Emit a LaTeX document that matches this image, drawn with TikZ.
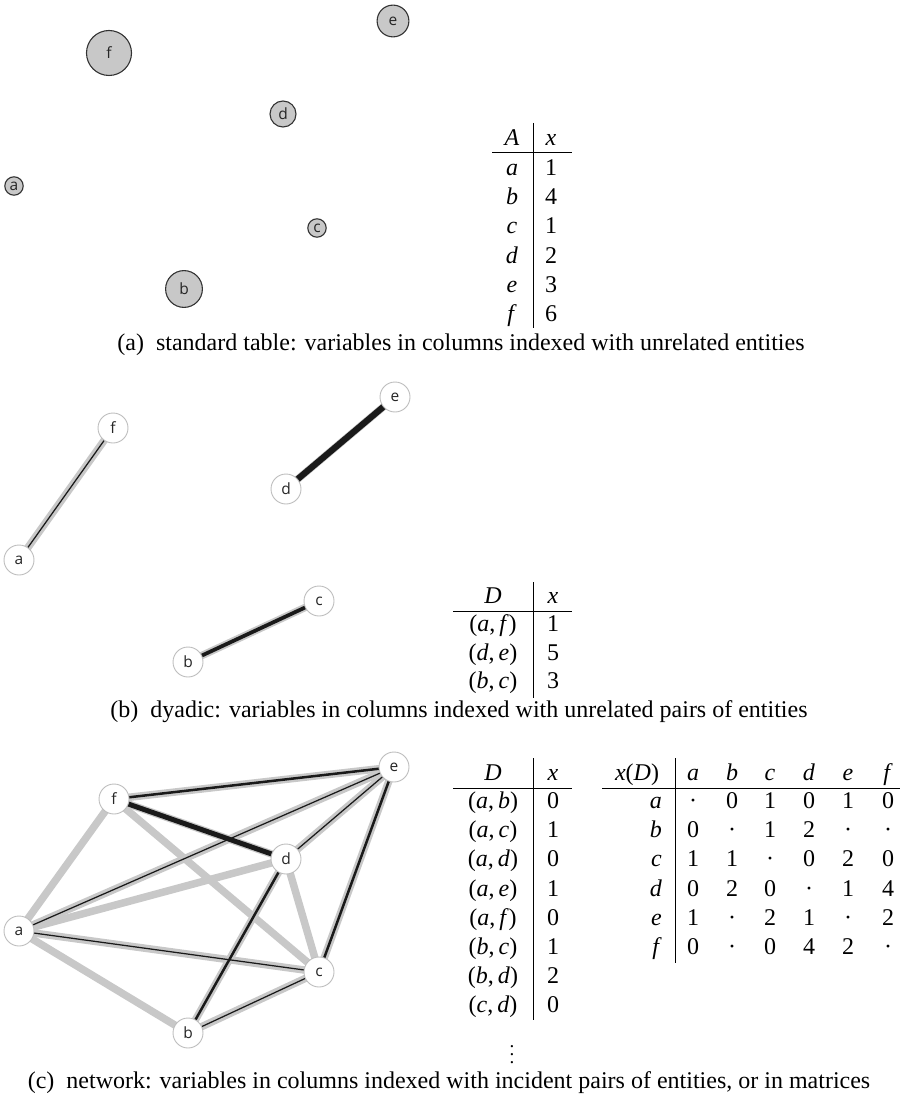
\documentclass[tikz,border=0pt]{standalone}
\usepackage{fontspec}
\setmainfont{Liberation Serif}
\newfontfamily\lblfont{Open Sans}
\usetikzlibrary{backgrounds}
\definecolor{bubblefill}{HTML}{C8C8C8}
\definecolor{bubbleline}{HTML}{333333}
\definecolor{vtxline}{HTML}{BDBDBD}
\definecolor{halogray}{HTML}{C8C8C8}
\definecolor{coreblack}{HTML}{1A1A1A}
\begin{document}
\begin{tikzpicture}[x=1pt,y=-1pt,
  bubble/.style={circle, draw=bubbleline, fill=bubblefill, line width=1.1pt, inner sep=0pt,
    minimum size=#1, font=\lblfont\fontsize{15.5}{15.5}\selectfont, text=black!85},
  vtx/.style={circle, draw=vtxline, fill=white, line width=0.9pt, minimum size=30pt, inner sep=0pt,
    font=\lblfont\fontsize{15.5}{15.5}\selectfont, text=black!85},
  halo/.style={draw=halogray, line width=7.5pt},
  core/.style={draw=coreblack, line width=#1},
  txt/.style={anchor=base, inner sep=0pt, font=\fontsize{24}{28}\selectfont},
  txtr/.style={anchor=base east, inner sep=0pt, font=\fontsize{24}{28}\selectfont},
  rule/.style={draw=black, line width=1pt},
  captext/.style={anchor=base, inner sep=0pt, font=\fontsize{24}{28}\selectfont}]
\useasboundingbox (0,0) rectangle (909,1099);

% ---------------- panel (a)
\node[bubble=18.4pt] (pa) at (14,186) {a};
\node[bubble=36.8pt] (pb) at (184,289) {b};
\node[bubble=18.4pt] (pc) at (317,228) {c};
\node[bubble=26pt] (pd) at (283,114) {d};
\node[bubble=31.8pt] (pe) at (393,21) {e};
\node[bubble=45pt] (pf) at (109,53) {f};

\draw[rule] (533,123) -- (533,328);
\draw[rule] (492,153) -- (572,153);
\node[txt] (tah1) at (512,145.5) {\textit{A}};
\node[txt] (tah2) at (551,145.5) {\textit{x}};
\node[txt] (ta1a) at (512,175.5) {\textit{a}};  \node[txt] (ta1x) at (551,175.5) {1};
\node[txt] (ta2a) at (512,204.7) {\textit{b}};  \node[txt] (ta2x) at (551,204.7) {4};
\node[txt] (ta3a) at (512,233.9) {\textit{c}};  \node[txt] (ta3x) at (551,233.9) {1};
\node[txt] (ta4a) at (512,263.1) {\textit{d}};  \node[txt] (ta4x) at (551,263.1) {2};
\node[txt] (ta5a) at (512,292.3) {\textit{e}};  \node[txt] (ta5x) at (551,292.3) {3};
\node[txt] (ta6a) at (512,321.5) {\textit{f}};  \node[txt] (ta6x) at (551,321.5) {6};

\node[captext] (capa) at (461,350) {(a)\ \ standard table: variables in columns indexed with unrelated entities};

% ---------------- panel (b)
\node[vtx] (ba) at (19,560) {a};
\node[vtx] (bb) at (188,662) {b};
\node[vtx] (bc) at (319,601) {c};
\node[vtx] (bd) at (286,489) {d};
\node[vtx] (be) at (395,397) {e};
\node[vtx] (bf) at (113,428) {f};
\begin{pgfonlayer}{background}
  \draw[halo] (ba.center) -- (bf.center);
  \draw[core=1.25pt] (ba.center) -- (bf.center);
  \draw[halo] (bd.center) -- (be.center);
  \draw[core=6.25pt] (bd.center) -- (be.center);
  \draw[halo] (bb.center) -- (bc.center);
  \draw[core=3.75pt] (bb.center) -- (bc.center);
\end{pgfonlayer}

\draw[rule] (533,582) -- (533,698);
\draw[rule] (453,611) -- (572,611);
\node[txt] (tbh1) at (493,603.5) {\textit{D}};
\node[txt] (tbh2) at (553,603.5) {\textit{x}};
\node[txt] (tb1d) at (493,631) {(\textit{a},\,\textit{f})}; \node[txt] (tb1x) at (553,631) {1};
\node[txt] (tb2d) at (493,660) {(\textit{d},\,\textit{e})}; \node[txt] (tb2x) at (553,660) {5};
\node[txt] (tb3d) at (493,688.5) {(\textit{b},\,\textit{c})}; \node[txt] (tb3x) at (553,688.5) {3};

\node[captext] (capb) at (459,717) {(b)\ \ dyadic: variables in columns indexed with unrelated pairs of entities};

% ---------------- panel (c)
\node[vtx] (ca) at (19,931) {a};
\node[vtx] (cb) at (188,1033) {b};
\node[vtx] (cc) at (319,972) {c};
\node[vtx] (cd) at (286,859) {d};
\node[vtx] (ce) at (394,767) {e};
\node[vtx] (cf) at (114,799) {f};
\begin{pgfonlayer}{background}
  \draw[halo] (ca.center) -- (cb.center);
  \draw[halo] (ca.center) -- (cd.center);
  \draw[halo] (ca.center) -- (cf.center);
  \draw[halo] (cc.center) -- (cd.center);
  \draw[halo] (cc.center) -- (cf.center);
  \draw[halo] (ca.center) -- (cc.center);
  \draw[halo] (ca.center) -- (ce.center);
  \draw[halo] (cb.center) -- (cc.center);
  \draw[halo] (cb.center) -- (cd.center);
  \draw[halo] (cc.center) -- (ce.center);
  \draw[halo] (cd.center) -- (ce.center);
  \draw[halo] (cd.center) -- (cf.center);
  \draw[halo] (ce.center) -- (cf.center);
  \draw[core=1.25pt] (ca.center) -- (cc.center);
  \draw[core=1.25pt] (ca.center) -- (ce.center);
  \draw[core=1.25pt] (cb.center) -- (cc.center);
  \draw[core=2.5pt] (cb.center) -- (cd.center);
  \draw[core=2.5pt] (cc.center) -- (ce.center);
  \draw[core=1.25pt] (cd.center) -- (ce.center);
  \draw[core=5pt] (cd.center) -- (cf.center);
  \draw[core=2.5pt] (ce.center) -- (cf.center);
\end{pgfonlayer}

% D table
\draw[rule] (533,758) -- (533,1020);
\draw[rule] (453,788) -- (572,788);
\node[txt] (tch1) at (493,780) {\textit{D}};
\node[txt] (tch2) at (553,780) {\textit{x}};
\node[txt] (tc1d) at (493,808.5) {(\textit{a},\,\textit{b})}; \node[txt] (tc1x) at (553,808.5) {0};
\node[txt] (tc2d) at (493,837.7) {(\textit{a},\,\textit{c})}; \node[txt] (tc2x) at (553,837.7) {1};
\node[txt] (tc3d) at (493,866.9) {(\textit{a},\,\textit{d})}; \node[txt] (tc3x) at (553,866.9) {0};
\node[txt] (tc4d) at (493,896.1) {(\textit{a},\,\textit{e})}; \node[txt] (tc4x) at (553,896.1) {1};
\node[txt] (tc5d) at (493,925.3) {(\textit{a},\,\textit{f})}; \node[txt] (tc5x) at (553,925.3) {0};
\node[txt] (tc6d) at (493,954.5) {(\textit{b},\,\textit{c})}; \node[txt] (tc6x) at (553,954.5) {1};
\node[txt] (tc7d) at (493,983.7) {(\textit{b},\,\textit{d})}; \node[txt] (tc7x) at (553,983.7) {2};
\node[txt] (tc8d) at (493,1012.9) {(\textit{c},\,\textit{d})}; \node[txt] (tc8x) at (553,1012.9) {0};
\node[inner sep=0pt] (tcdots) at (512,1049) {\scalebox{1.9}{$\vdots$}};

% matrix
\draw[rule] (675,758) -- (675,963);
\draw[rule] (602,788) -- (900,788);
\node[txt] (mh0) at (637,780) {\textit{x}(\textit{D})};
\node[txt] (mha) at (693,780) {\textit{a}};
\node[txt] (mhb) at (732,780) {\textit{b}};
\node[txt] (mhc) at (770,780) {\textit{c}};
\node[txt] (mhd) at (809,780) {\textit{d}};
\node[txt] (mhe) at (848,780) {\textit{e}};
\node[txt] (mhf) at (888,780) {\textit{f}};
\node[txtr] (mra) at (662,808.5) {\textit{a}};
\node[txt] (m11) at (693,808.5) {·}; \node[txt] (m12) at (732,808.5) {0}; \node[txt] (m13) at (770,808.5) {1};
\node[txt] (m14) at (809,808.5) {0}; \node[txt] (m15) at (848,808.5) {1}; \node[txt] (m16) at (888,808.5) {0};
\node[txtr] (mrb) at (662,837.7) {\textit{b}};
\node[txt] (m21) at (693,837.7) {0}; \node[txt] (m22) at (732,837.7) {·}; \node[txt] (m23) at (770,837.7) {1};
\node[txt] (m24) at (809,837.7) {2}; \node[txt] (m25) at (848,837.7) {·}; \node[txt] (m26) at (888,837.7) {·};
\node[txtr] (mrc) at (662,866.9) {\textit{c}};
\node[txt] (m31) at (693,866.9) {1}; \node[txt] (m32) at (732,866.9) {1}; \node[txt] (m33) at (770,866.9) {·};
\node[txt] (m34) at (809,866.9) {0}; \node[txt] (m35) at (848,866.9) {2}; \node[txt] (m36) at (888,866.9) {0};
\node[txtr] (mrd) at (662,896.1) {\textit{d}};
\node[txt] (m41) at (693,896.1) {0}; \node[txt] (m42) at (732,896.1) {2}; \node[txt] (m43) at (770,896.1) {0};
\node[txt] (m44) at (809,896.1) {·}; \node[txt] (m45) at (848,896.1) {1}; \node[txt] (m46) at (888,896.1) {4};
\node[txtr] (mre) at (662,925.3) {\textit{e}};
\node[txt] (m51) at (693,925.3) {1}; \node[txt] (m52) at (732,925.3) {·}; \node[txt] (m53) at (770,925.3) {2};
\node[txt] (m54) at (809,925.3) {1}; \node[txt] (m55) at (848,925.3) {·}; \node[txt] (m56) at (888,925.3) {2};
\node[txtr] (mrf) at (662,954.5) {\textit{f}};
\node[txt] (m61) at (693,954.5) {0}; \node[txt] (m62) at (732,954.5) {·}; \node[txt] (m63) at (770,954.5) {0};
\node[txt] (m64) at (809,954.5) {4}; \node[txt] (m65) at (848,954.5) {2}; \node[txt] (m66) at (888,954.5) {·};

\node[captext] (capc) at (449,1088) {(c)\ \ network: variables in columns indexed with incident pairs of entities, or in matrices};
\end{tikzpicture}
\end{document}
